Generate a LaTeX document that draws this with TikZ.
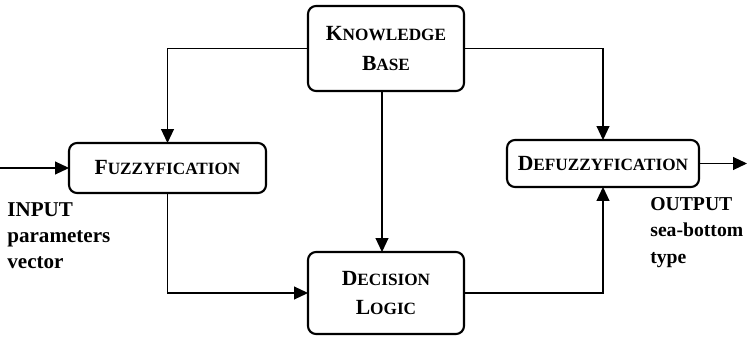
\documentclass[tikz,border=0pt]{standalone}
\usepackage{fontspec}
\setmainfont{Liberation Serif}
\usetikzlibrary{arrows.meta}
\newcommand{\smc}[2]{#1{\fontsize{9.8}{11}\selectfont #2}}

\begin{document}
\begin{tikzpicture}[x=0.02cm,y=-0.02cm,
  block/.style={draw,line width=1.2pt,rounded corners=0.16cm,align=center,outer sep=0pt,
    font=\fontsize{12.3}{17}\bfseries},
  link/.style={line width=0.6pt,-{Triangle[length=0.28cm,width=0.26cm]}},
  tag/.style={align=left,anchor=north west,inner sep=0pt,font=\fontsize{12}{15}\bfseries}]
\useasboundingbox[fill=white] (0,0) rectangle (748,338);

\node[block,minimum width=3.12cm,minimum height=1.7cm] (kb) at (386,48.5) {\smc{K}{NOWLEDGE}\\\smc{B}{ASE}};
\node[block,minimum width=3.94cm,minimum height=1.0cm] (fuzzy) at (167.5,168) {\smc{F}{UZZYFICATION}};
\node[block,minimum width=3.12cm,minimum height=1.64cm] (dec) at (386,293) {\smc{D}{ECISION}\\\smc{L}{OGIC}};
\node[block,minimum width=3.84cm,minimum height=0.94cm] (defuzz) at (603,163.5) {\smc{D}{EFUZZYFICATION}};

\coordinate (in) at (0,168);
\coordinate (out) at (747,163.5);

\draw[link] (kb.west) -| (fuzzy.north);
\draw[link] (kb.east) -| (defuzz.north);
\draw[link] ([xshift=-0.08cm]kb.south) -- ([xshift=-0.08cm]dec.north);
\draw[link] (fuzzy.south) |- (dec.west);
\draw[link] (dec.east) -| (defuzz.south);
\draw[link] (in) -- (fuzzy.west);
\draw[link] (defuzz.east) -- (out);

\node[tag] (inlabel) at (7,202) {INPUT\\parameters\\vector};
\node[tag,font=\fontsize{11.2}{15}\bfseries] (outlabel) at (650,197) {OUTPUT\\sea-bottom\\type};
\end{tikzpicture}
\end{document}
